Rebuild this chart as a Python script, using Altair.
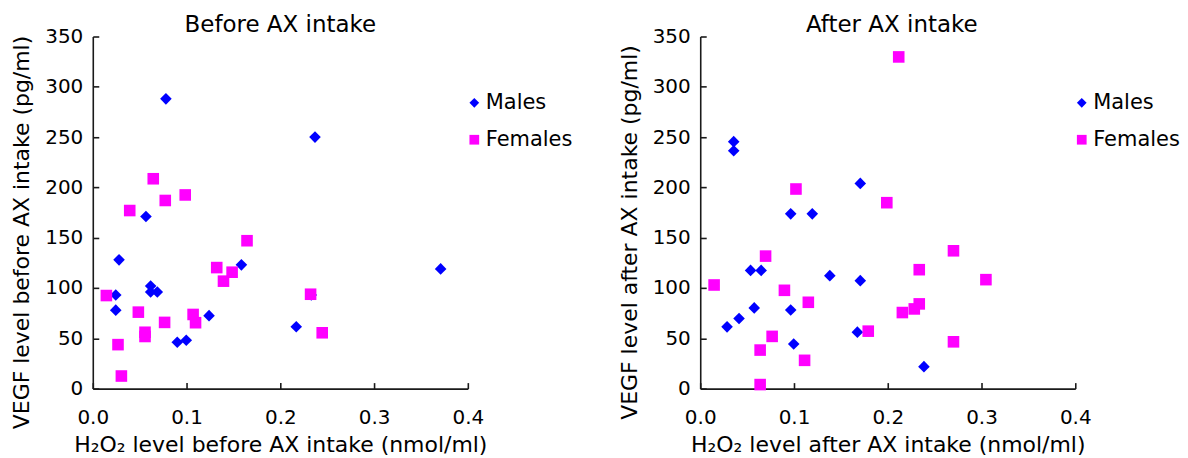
import altair as alt
import pandas as pd

# ---- data ----
before_male_x = [0.078, 0.237, 0.0567, 0.028, 0.1585, 0.0245, 0.0617, 0.0617, 0.0688, 0.0245, 0.124, 0.0901, 0.0997, 0.217, 0.233, 0.371]
before_male_y = [288, 250, 171, 128, 123, 93, 102, 96, 96, 78, 72.5, 46, 48, 61.5, 93, 119]
before_female_x = [0.0645, 0.0986, 0.0773, 0.0394, 0.1645, 0.1322, 0.1486, 0.1394, 0.0145, 0.2323, 0.0486, 0.107, 0.1096, 0.0766, 0.0557, 0.0557, 0.2447, 0.0269, 0.0305]
before_female_y = [208.6, 192.5, 187, 177, 147, 120.3, 115.7, 106.8, 92.5, 93.8, 76, 73.7, 65.5, 65.8, 56, 51.8, 55.5, 43.7, 12.5]

after_male_x = [0.0357, 0.0357, 0.1707, 0.0965, 0.1195, 0.0537, 0.065, 0.1382, 0.1707, 0.0576, 0.0965, 0.0414, 0.0286, 0.1676, 0.0997, 0.2386]
after_male_y = [245.5, 236.5, 204, 173.7, 173.7, 117.5, 117.5, 112.3, 107.3, 80.2, 78.2, 69.7, 61.4, 56.1, 44.3, 21.8]
after_female_x = [0.2117, 0.1021, 0.199, 0.2701, 0.0697, 0.2336, 0.3047, 0.0148, 0.0898, 0.1153, 0.2336, 0.2283, 0.2156, 0.1792, 0.0767, 0.2701, 0.0639, 0.1113, 0.0639]
after_female_y = [329.7, 198.4, 184.8, 137, 131.7, 118.2, 108.3, 103, 97.7, 85.8, 84.2, 79.2, 75.6, 57.1, 51.9, 46.5, 38.3, 28.1, 4]

groups = ["Males", "Females"]
group_colors = ["#0000FF", "#FF00FF"]
group_shapes = ["diamond", "square"]
x_ticks = [0.0, 0.1, 0.2, 0.3, 0.4]
y_ticks = [0, 50, 100, 150, 200, 250, 300, 350]

FONT = "DejaVu Sans"


def make_df(mx, my, fx, fy):
    rows = [{"x": a, "y": b, "Sex": "Males"} for a, b in zip(mx, my)]
    rows += [{"x": a, "y": b, "Sex": "Females"} for a, b in zip(fx, fy)]
    return pd.DataFrame(rows)


def panel(df, title, xtitle, ytitle, title_dx):
    xaxis = alt.Axis(
        title=xtitle, values=x_ticks, format=".1f", grid=False,
        tickSize={"expr": "-6"}, labelPadding=25, titlePadding=7,
        labelFontSize=20, titleFontSize=22, titleFontWeight="normal",
        labelColor="black", titleColor="black",
        domainColor="#1a1a1a", tickColor="#1a1a1a", domainWidth=1.6, tickWidth=1.6,
        labelFlush=False,
    )
    yaxis = alt.Axis(
        title=ytitle, values=y_ticks, grid=False,
        tickSize={"expr": "-6"}, labelPadding=16, titlePadding=11,
        labelFontSize=20, titleFontSize=22, titleFontWeight="normal",
        labelColor="black", titleColor="black",
        domainColor="#1a1a1a", tickColor="#1a1a1a", domainWidth=1.6, tickWidth=1.6,
        titleY=196, labelFlush=False,
    )
    legend = alt.Legend(
        title=None, orient="none", legendX=372, legendY=56,
        labelFontSize=21, labelColor="black", symbolSize=95,
        symbolStrokeWidth=0, rowPadding=15, labelOffset=1, padding=0,
        symbolOpacity=1,
    )
    return alt.Chart(df).mark_point(filled=True, opacity=1, size=135).encode(
        x=alt.X("x:Q", scale=alt.Scale(domain=[0, 0.4], nice=False, zero=True), axis=xaxis),
        y=alt.Y("y:Q", scale=alt.Scale(domain=[0, 350], nice=False), axis=yaxis),
        color=alt.Color("Sex:N", scale=alt.Scale(domain=groups, range=group_colors), legend=legend),
        shape=alt.Shape("Sex:N", scale=alt.Scale(domain=groups, range=group_shapes), legend=legend),
        order=alt.Order("ord:Q"),
    ).transform_calculate(
        ord="datum.Sex == 'Males' ? 0 : 1"
    ).properties(
        width=376, height=353,
        title=alt.TitleParams(title, fontSize=23, fontWeight="normal", anchor="middle",
                              frame="group", color="black", offset=-10, dx=title_dx),
    )


left = panel(make_df(before_male_x, before_male_y, before_female_x, before_female_y),
             "Before AX intake",
             "H\u2082O\u2082 level before AX intake (nmol/ml)",
             "VEGF level before AX intake (pg/ml)", 0)
right = panel(make_df(after_male_x, after_male_y, after_female_x, after_female_y),
              "After AX intake",
              "H\u2082O\u2082 level after AX intake (nmol/ml)",
              "VEGF level after AX intake (pg/ml)", 4)

chart = alt.hconcat(left, right, spacing=233, bounds="flush").resolve_scale(
    color="independent", shape="independent", x="independent", y="independent"
).resolve_legend(color="independent", shape="independent").properties(
    padding={"left": 2, "top": 5, "right": 0, "bottom": 0}
).configure(font=FONT).configure_view(stroke=None)

chart.save("out.html", embed_options={"renderer": "svg", "actions": False})
